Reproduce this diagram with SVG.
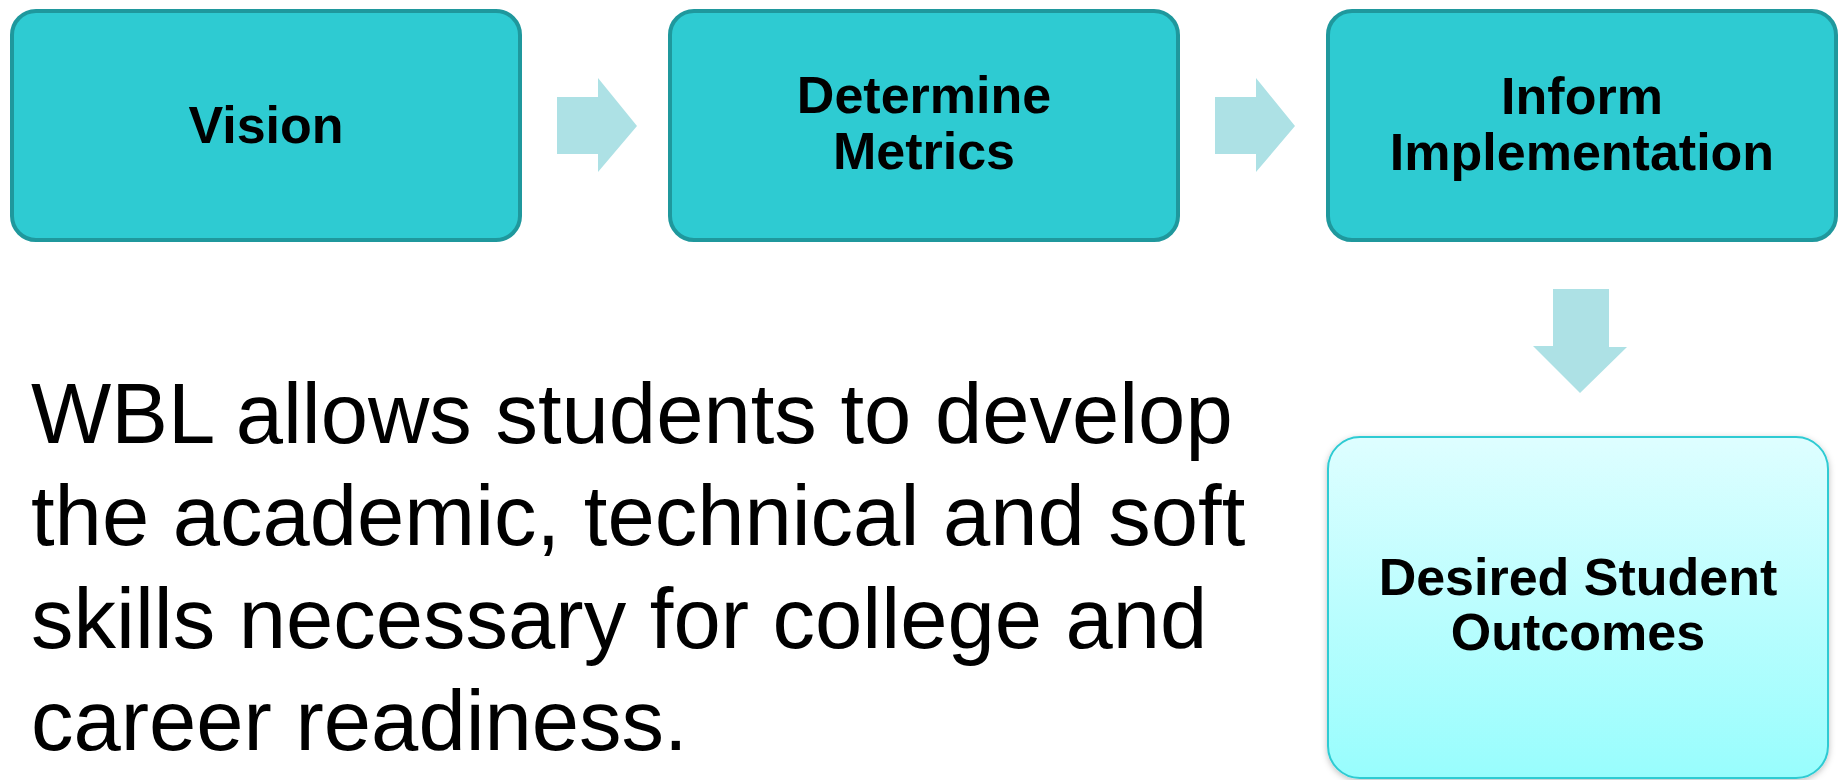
<svg xmlns="http://www.w3.org/2000/svg" width="1839" height="780" viewBox="0 0 1839 780">
  <defs>
    <linearGradient id="outcomeFill" x1="0" y1="0" x2="0" y2="1">
      <stop offset="0" stop-color="#DEFEFF"/>
      <stop offset="1" stop-color="#98FDFD"/>
    </linearGradient>
    <filter id="softShadow" x="-5%" y="-5%" width="110%" height="110%">
      <feDropShadow dx="0" dy="2" stdDeviation="3" flood-color="#000" flood-opacity="0.25"/>
    </filter>
  </defs>
  <style>
    .step { fill: #2ECBD2; stroke: #1F989D; stroke-width: 4; }
    .outcome { fill: url(#outcomeFill); stroke: #2ECBD3; stroke-width: 2; }
    .label { font-family: "Liberation Sans", Arial, sans-serif; font-weight: bold; font-size: 52px; fill: #000; text-anchor: middle; }
    .body { font-family: "Liberation Sans", Arial, sans-serif; font-size: 85px; fill: #000; }
    .flow { fill: #ADE1E5; }
  </style>

  <rect width="1839" height="780" fill="#FFFFFF"/>

  <g id="vision">
    <rect class="step" x="12" y="11" width="508" height="229" rx="24"/>
    <text class="label" x="266" y="143">Vision</text>
  </g>

  <g id="determine-metrics">
    <rect class="step" x="670" y="11" width="508" height="229" rx="24"/>
    <text class="label" x="924" y="113">Determine</text>
    <text class="label" x="924" y="169">Metrics</text>
  </g>

  <g id="inform-implementation">
    <rect class="step" x="1328" y="11" width="508" height="229" rx="24"/>
    <text class="label" x="1582" y="114">Inform</text>
    <text class="label" x="1582" y="170">Implementation</text>
  </g>

  <g id="desired-outcomes">
    <rect class="outcome" x="1328" y="437" width="500" height="341" rx="32" filter="url(#softShadow)"/>
    <text class="label" x="1578" y="595">Desired Student</text>
    <text class="label" x="1578" y="650">Outcomes</text>
  </g>

  <g id="connectors">
    <polygon class="flow" points="557,97 598,97 598,78 637,126 598,172 598,154 557,154"/>
    <polygon class="flow" points="1215,97 1256,97 1256,78 1295,126 1256,172 1256,154 1215,154"/>
    <polygon class="flow" points="1553,289 1609,289 1609,347 1627,347 1580,393 1533,346 1553,346"/>
  </g>

  <g id="summary">
    <text class="body" x="31" y="443">WBL allows students to develop</text>
    <text class="body" x="31" y="545">the academic, technical and soft</text>
    <text class="body" x="31" y="648">skills necessary for college and</text>
    <text class="body" x="31" y="750">career readiness.</text>
  </g>
</svg>
